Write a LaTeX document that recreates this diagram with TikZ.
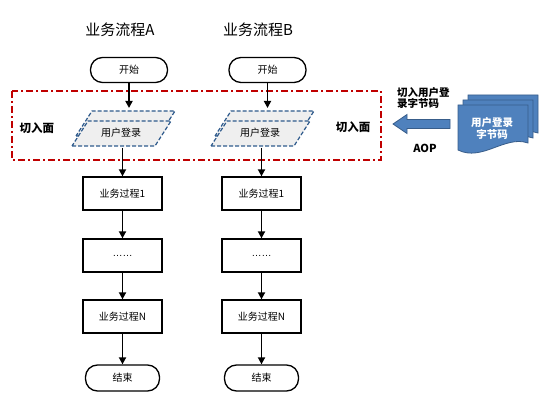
\documentclass[tikz,border=0pt]{standalone}
\usepackage{fontspec}
\setmainfont{Noto Sans CJK SC}
\newfontfamily\dotfont{Liberation Sans}
\usetikzlibrary{arrows.meta}
\definecolor{aopred}{HTML}{C00000}
\definecolor{loginblue}{HTML}{2E5A8C}
\definecolor{loginfill}{HTML}{EFEFEF}
\definecolor{docblue}{HTML}{4F81BD}
\definecolor{docedge}{HTML}{385D8A}
\begin{document}
\begin{tikzpicture}[x=1pt, y=-1pt,
    flow/.style={line width=1.7pt, -{Triangle[length=7pt,width=7pt]}},
    procbox/.style={draw, line width=1.3pt, minimum width=79pt, minimum height=33pt, font=\fontsize{10}{12}\selectfont},
    termbox/.style={draw, line width=1.3pt, rounded corners=12pt, minimum width=77pt, minimum height=25pt, font=\fontsize{10}{12}\selectfont},
    loginpage/.style={draw=loginblue, fill=loginfill, line width=1.2pt, dash pattern=on 4pt off 2pt},
    docpage/.style={draw=docedge, fill=docblue, line width=0.8pt}]
  \useasboundingbox (0,0) rectangle (554,409);
  \tikzset{every node/.style={inner sep=0pt, align=center}}
  % titles
  \node[font=\fontsize{15}{18}\selectfont] (titleA) at (120,30) {业务流程A};
  \node[font=\fontsize{15}{18}\selectfont] (titleB) at (258,30) {业务流程B};
  % join plane
  \draw[aopred, line width=1.5pt, dash pattern=on 7pt off 3pt on 2pt off 3pt] (12,91) rectangle (381,160);
  \node[font=\bfseries\fontsize{11.5}{13}\selectfont] (planeL) at (37,128) {切入面};
  \node[font=\bfseries\fontsize{11.5}{13}\selectfont] (planeR) at (353,127) {切入面};
  % login, flow A
  \filldraw[loginpage] (76,136) -- (159,136) -- (175,111) -- (92,111) -- cycle;
  \filldraw[loginpage] (72,146) -- (155,146) -- (171,121) -- (88,121) -- cycle;
  \node[font=\fontsize{10}{12}\selectfont] (loginA) at (121,133) {用户登录};
  % login, flow B
  \filldraw[loginpage] (215,136) -- (298,136) -- (314,111) -- (231,111) -- cycle;
  \filldraw[loginpage] (211,146) -- (294,146) -- (310,121) -- (227,121) -- cycle;
  \node[font=\fontsize{10}{12}\selectfont] (loginB) at (260,133) {用户登录};
  % flow A
  \node[termbox] (startA) at (129,70) {开始};
  \node[procbox] (stepA1) at (122.5,193.5) {业务过程1};
  \node[procbox] (stepA2) at (122.5,255.5) {\dotfont ……};
  \node[procbox] (stepA3) at (122.5,316.5) {业务过程N};
  \node[termbox, minimum width=74pt, minimum height=26pt] (endA) at (122.5,378) {结束};
  \coordinate (inA) at (129,108);
  \coordinate (outA) at (122.5,148);
  \draw[flow] (startA) -- (inA);
  \draw[flow] (outA) -- (stepA1);
  \draw[flow] (stepA1) -- (stepA2);
  \draw[flow] (stepA2) -- (stepA3);
  \draw[flow] (stepA3) -- (endA);
  % flow B
  \node[termbox] (startB) at (267.5,70) {开始};
  \node[procbox] (stepB1) at (261.5,193.5) {业务过程1};
  \node[procbox] (stepB2) at (261.5,255.5) {\dotfont ……};
  \node[procbox] (stepB3) at (261.5,316.5) {业务过程N};
  \node[termbox, minimum width=74pt, minimum height=26pt] (endB) at (261.5,378) {结束};
  \coordinate (inB) at (267.5,108);
  \coordinate (outB) at (261.5,148);
  \draw[flow] (startB) -- (inB);
  \draw[flow] (outB) -- (stepB1);
  \draw[flow] (stepB1) -- (stepB2);
  \draw[flow] (stepB2) -- (stepB3);
  \draw[flow] (stepB3) -- (endB);
  % AOP weaving
  \filldraw[docpage] (393,124) -- (407,114.5) -- (407,119.5) -- (450,119.5) -- (450,128.5) -- (407,128.5) -- (407,133.5) -- cycle;
  \node[font=\bfseries\fontsize{10.5}{11}\selectfont, align=left, anchor=north west] (weaveTxt) at (397,87.5) {切入用户登\\录字节码};
  \node[font=\bfseries\fontsize{11}{13}\selectfont] (aop) at (425,148) {AOP};
  \filldraw[docpage, shift={(10,-10)}] (458,105) -- (528,105) -- (528,143) .. controls (505,135) and (482,162) .. (458,150) -- cycle;
  \filldraw[docpage, shift={(5,-5)}] (458,105) -- (528,105) -- (528,143) .. controls (505,135) and (482,162) .. (458,150) -- cycle;
  \filldraw[docpage] (458,105) -- (528,105) -- (528,143) .. controls (505,135) and (482,162) .. (458,150) -- cycle;
  \node[font=\bfseries\fontsize{10.5}{12}\selectfont, text=white] (docTxt) at (492,128) {用户登录\\字节码};
\end{tikzpicture}
\end{document}
